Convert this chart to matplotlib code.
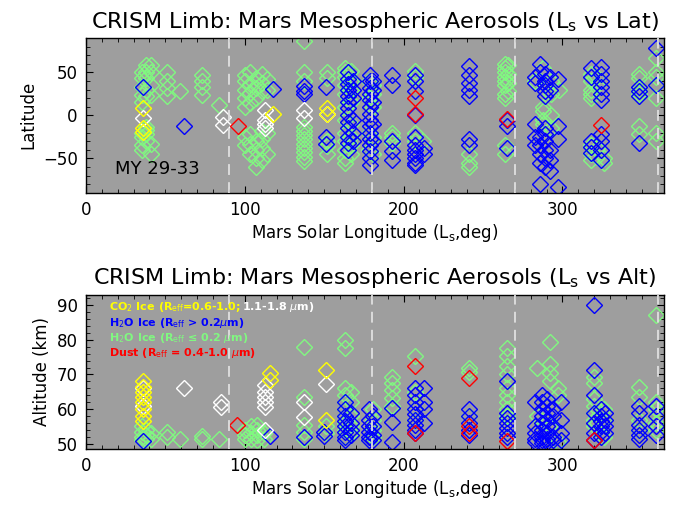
import matplotlib
matplotlib.use('Agg')
import matplotlib.pyplot as plt
from matplotlib.ticker import MultipleLocator

matplotlib.rc('font', family='DejaVu Sans', size=12)

# ---- data: (Ls, [values...]) columns ----
lat_green = [
    (35, [51, 43, 33, 24, 16, -20, -25, -34, -40]),
    (38, [58, 51, 43, 30, 22, -14, -17, -22, -30]),
    (41, [58, 50, 35, 24, -33, -45]),
    (51, [51, 40, 32, 22]),
    (59, [28]),
    (73, [47, 40, 33, 24]),
    (84, [12]),
    (100, [47, 40, 30, 20, 10, -25, -35]),
    (103, [50, 36, 26, 14, -22, -33, -45]),
    (107, [44, 32, 20, -30, -40, -50, -60]),
    (111, [48, 38, 28, -18, -28, -38, -52]),
    (114, [42, 30, -20, -45]),
    (137, [86, 51, 40, -13, -18, -23, -28, -33, -38, -43, -48, -53]),
    (152, [51, 43, -30, -36, -45]),
    (163, [55, 50, 45, 35, 25, 10, -5, -20, -30, -40, -50, -55]),
    (167, [52, 40, 30, 15, -10, -25, -35, -45]),
    (178, [40, 20, -20, -40]),
    (181, [35, 25, 10, -25, -45]),
    (193, [-20, -25, -32]),
    (207, [52, 45, -20, -30]),
    (212, [-30]),
    (241, [-45, -55, -60]),
    (264, [60, 55, 50, 45, 40, 35, 25, 20, -35, -45]),
    (266, [58, 48, 38, 28]),
    (283, [40]),
    (288, [55, 10, 5, -5, -10]),
    (293, [40, 25, 0, -15]),
    (298, [30]),
    (318, [48, 40, 30, 25, 20, -35, -45, -52]),
    (322, [45, 35, -38, -48]),
    (326, [-50, -55]),
    (348, [48, 43, 30, 25, -12, -22]),
    (359, [67, 50, 45, 35, 20, -20, -30]),
]
lat_blue = [
    (36, [33]),
    (62, [-12]),
    (118, [31]),
    (137, [34, 28, 25]),
    (151, [33, -25, -33]),
    (165, [50, 42, 37, 30, 22, 15, 8, 0, -8, -15, -25, -32, -40]),
    (168, [40, 30, 20, -5, -20, -30]),
    (179, [47, 40, 32, 25, 18, 10, 2, -5, -12, -20, -28, -35, -42, -50, -58]),
    (181, [40, 30, 15, -10, -30]),
    (193, [47, 35, -30, -42, -52]),
    (207, [47, 40, 28, 0, -25, -35, -40, -45, -50, -55, -58]),
    (213, [-38, -45]),
    (241, [57, 47, 38, 30, 22, -27, -35]),
    (265, [-5, -12, -38]),
    (283, [45, 38, -10, -25, -35]),
    (286, [60, 50, -25, -35, -45, -55, -80]),
    (289, [48, 40, 35, 28, 22, -15, -22, -30, -40, -50, -60]),
    (292, [45, 30, -40, -52, -65]),
    (297, [42, -12, -28, -83]),
    (318, [55, 45, -30, -37, -44]),
    (324, [56, 48, 40, 33, 25, 18, -22, -30, -40, -52]),
    (348, [33, 28, 22, -32]),
    (359, [78, 35]),
]
lat_white = [(36, [-3]), (86, [-2, -11]), (113, [6, -5, -10, -15]),
             (137, [6, -3]), (152, [1])]
lat_yellow = [(36, [9, -15, -19]), (118, [1]), (152, [8, 1])]
lat_red = [(96, [-12]), (207, [20, 2]), (265, [-4]), (324, [-11])]

alt_green = [
    (35, [55, 53.5, 52, 51]),
    (38, [54, 52.5, 51.5]),
    (41, [53, 51.5]),
    (51, [53.5, 52]),
    (59, [51.3]),
    (73, [52.3, 51.3]),
    (84, [51.3]),
    (100, [54, 52.5, 51.5]),
    (104, [55, 53, 51.5]),
    (108, [55.5, 54, 52.5, 51]),
    (112, [53, 51.5]),
    (137, [78, 63.5, 55.5, 53.5, 51.5]),
    (151, [55, 53]),
    (163, [79.9, 77.5, 66, 64, 62, 60, 58, 56, 54, 52]),
    (167, [65, 62, 58, 55, 53]),
    (181, [60, 57, 54, 52]),
    (193, [69.4, 67.5, 65.5, 63.3, 61]),
    (207, [75.2, 65, 60, 57]),
    (241, [71.8, 70.8, 58, 55]),
    (265, [77.6, 75.2, 72.3, 70, 66, 64, 62, 60, 58]),
    (284, [72, 58]),
    (292, [79.5, 73, 70.5, 68, 55]),
    (297, [66, 64, 50.5]),
    (320, [69.4, 67.5, 63, 61, 59, 57, 55]),
    (326, [60, 57, 52]),
    (348, [66.5, 63.6, 57, 54]),
    (359, [87.2, 62, 60, 58, 56, 54]),
]
alt_blue = [
    (36, [50.8]),
    (116, [52.3]),
    (137, [52]),
    (150, [52.3, 53.5]),
    (163, [62, 60, 58, 56.5, 55, 53.5, 52, 51]),
    (167, [59, 56, 54, 52.5]),
    (178, [60, 57, 55, 53.5, 52, 51]),
    (181, [58, 55, 52.5, 51]),
    (193, [60.2, 56.3, 50.5]),
    (207, [66, 64, 62, 60, 58.5, 57, 55.5, 54, 53]),
    (213, [66, 62, 60, 56]),
    (241, [60, 58, 56, 54, 52.5]),
    (265, [68, 59, 57.5, 56, 54.5, 53, 52]),
    (283, [62, 55, 53, 51.5, 50.5]),
    (287, [64, 62, 60, 58, 56, 54, 52, 51, 50.2]),
    (290, [63, 61, 59, 57, 55, 53, 51.5, 50.5]),
    (294, [60, 58, 55, 52, 51]),
    (299, [62, 57, 53, 51]),
    (320, [90.1, 71.3, 64, 59, 56, 53, 51]),
    (324, [60, 58, 56.5, 55, 53.5, 52]),
    (327, [59, 57, 55, 53]),
    (348, [61, 59, 55.5, 54, 52.5, 51.5]),
    (359, [61, 58, 55, 52.5]),
]
alt_white = [(36, [66, 61]), (62, [66]), (85, [62, 60.5]),
             (113, [67, 65, 63.5, 62, 60.5, 54]), (137, [62, 57.8]), (151, [67.3])]
alt_yellow = [(36, [68, 66.5, 65, 63.5, 62, 60, 58, 56.5]), (116, [70.5, 68.5]),
              (151, [71.3, 56.8])]
alt_red = [(95, [55.4]), (207, [72.3, 53]), (241, [68.9, 55, 53]),
           (265, [50.7]), (320, [51.2])]

season_ls = [90, 180, 270, 360]

GRN = '#80F880'
BLU = '#0000FF'
YEL = '#FFFF00'
RED = '#FF0000'
WHT = '#FFFFFF'


def expand(cols):
    xs, ys = [], []
    for ls, vals in cols:
        xs += [ls] * len(vals)
        ys += vals
    return xs, ys


fig = plt.figure(figsize=(6.78, 5.05), dpi=100)
ax1 = fig.add_axes([0.1268, 0.6184, 0.8526, 0.3064])
ax2 = fig.add_axes([0.1268, 0.1115, 0.8526, 0.3043])

sets = [
    (ax1, [(lat_green, GRN), (lat_blue, BLU), (lat_white, WHT),
           (lat_yellow, YEL), (lat_red, RED)]),
    (ax2, [(alt_green, GRN), (alt_blue, BLU), (alt_white, WHT),
           (alt_yellow, YEL), (alt_red, RED)]),
]
for ax, groups in sets:
    ax.set_facecolor('#9E9E9E')
    for cols, c in groups:
        x, y = expand(cols)
        ax.plot(x, y, 'D', ms=7.8, mfc='none', mec=c, mew=1.0, ls='none')
    for ls in season_ls:
        ax.axvline(ls, color='#E0E0E0', lw=1.3, ls=(0, (6, 4)), zorder=3)
    ax.set_xlim(0, 364)
    ax.xaxis.set_major_locator(MultipleLocator(100))
    ax.xaxis.set_minor_locator(MultipleLocator(10))
    ax.tick_params(which='both', direction='in', top=True, right=True,
                   labelsize=12, pad=6)
    ax.tick_params(which='major', length=5, width=0.8)
    ax.tick_params(which='minor', length=3, width=0.6)
    for sp in ax.spines.values():
        sp.set_linewidth(1.0)
    ax.set_xlabel('Mars Solar Longitude (L$_{\\rm s}$,deg)', fontsize=12, labelpad=2)

ax1.set_ylim(-90, 90)
ax1.yaxis.set_major_locator(MultipleLocator(50))
ax1.yaxis.set_minor_locator(MultipleLocator(10))
ax1.set_ylabel('Latitude', fontsize=12)
ax1.set_title('CRISM Limb: Mars Mesospheric Aerosols (L$_{\\rm s}$ vs Lat)',
              fontsize=16, pad=7)
ax1.text(18, -63, 'MY 29-33', fontsize=13, color='black', va='center')

ax2.set_ylim(48.6, 92.9)
ax2.yaxis.set_major_locator(MultipleLocator(10))
ax2.yaxis.set_minor_locator(MultipleLocator(2))
ax2.set_ylabel('Altitude (km)', fontsize=12)
ax2.set_title('CRISM Limb: Mars Mesospheric Aerosols (L$_{\\rm s}$ vs Alt)',
              fontsize=16, pad=8)

fs_leg = 8.0
leg_kw = dict(transform=ax2.transAxes, fontsize=fs_leg, fontweight='bold', va='center')
t1 = ax2.text(0.04, 0.92, 'CO$_2$ Ice (R$_{\\rm eff}$=0.6-1.0; ', color=YEL, **leg_kw)
ax2.annotate('1.1-1.8 $\\mu$m)', xy=(1, 0.5), xycoords=t1, va='center',
             fontsize=fs_leg, fontweight='bold', color=WHT)
ax2.text(0.04, 0.82, 'H$_2$O Ice (R$_{\\rm eff}$ > 0.2$\\mu$m)', color=BLU, **leg_kw)
ax2.text(0.04, 0.72, 'H$_2$O Ice (R$_{\\rm eff}$ \u2264 0.2 $\\mu$m)', color=GRN, **leg_kw)
ax2.text(0.04, 0.62, 'Dust (R$_{\\rm eff}$ = 0.4-1.0 $\\mu$m)', color=RED, **leg_kw)

fig.savefig('out.png', dpi=100)
